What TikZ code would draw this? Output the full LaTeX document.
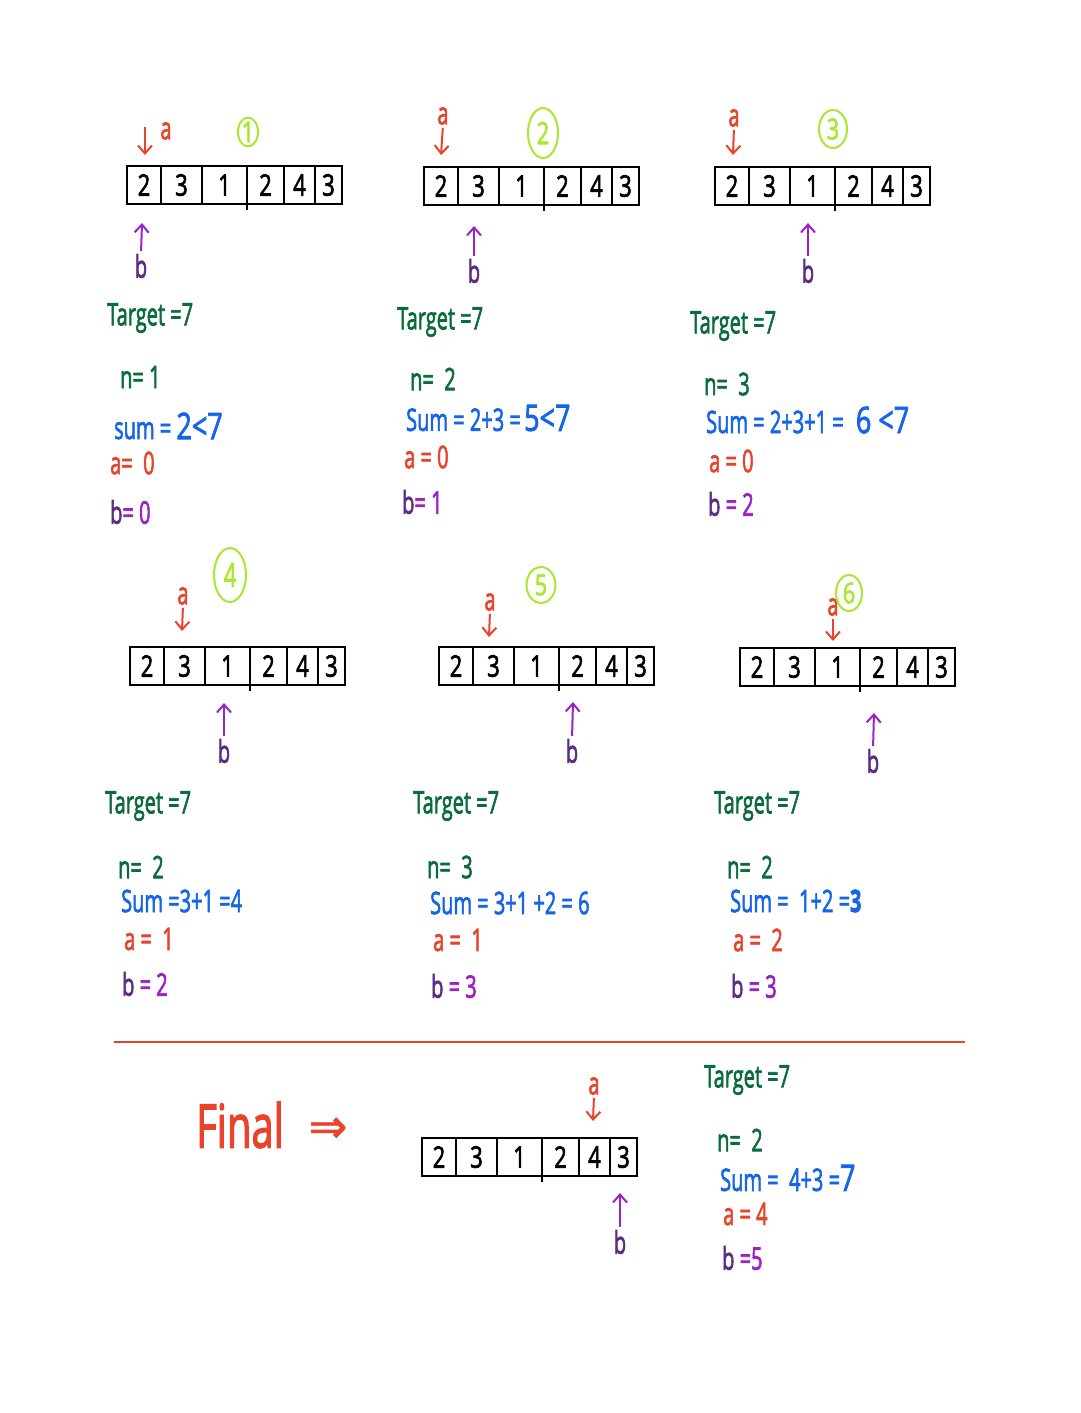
\documentclass[tikz,border=0pt]{standalone}
\usepackage{fontspec}
\setmainfont{Open Sans}[FakeBold=2.5]
\newfontfamily\symfont{DejaVu Sans}[FakeBold=1.5]
\usetikzlibrary{shapes.geometric,arrows.meta}
\definecolor{hwgreen}{HTML}{0B6B3D}
\definecolor{hwblue}{HTML}{1565E8}
\definecolor{hwred}{HTML}{E8432B}
\definecolor{hwpurple}{HTML}{5A2D82}
\definecolor{hwmag}{HTML}{9B22C8}
\definecolor{hwlime}{HTML}{A8E830}
\newcommand\hw[1]{\scalebox{1}[1.55]{#1}}
\newcommand\hwbig[1]{{\fontsize{27}{30}\selectfont\scalebox{1}[1.35]{#1}}}
\newcommand\drawarr[3]{%
  \begin{scope}[shift={(#2,#3)}]
    \node[arrbox] (#1) at (107.5,19) {};
    \foreach \d in {34,75,157,188} \draw[cellline] (\d,0) -- (\d,38);
    \draw[cellline] (120,0) -- (120,44);
    \foreach \v/\c [count=\i] in {2/17,3/54.5,1/97.5,2/138.5,4/172.5,3/201.5}
      \node[cellnum] (#1-\i) at (\c,19) {\scalebox{1}[1.35]{\v}};
  \end{scope}}
\tikzset{
  arrbox/.style={draw=black, line width=1.5pt, minimum width=215pt, minimum height=38pt, inner sep=0pt},
  cellline/.style={black, line width=1.5pt},
  cellnum/.style={inner sep=0pt, font=\fontsize{22}{24}\selectfont},
  txt/.style={anchor=west, inner sep=0pt, font=\fontsize{20}{24}\selectfont},
  ptrlab/.style={inner sep=0pt, font=\fontsize{20}{24}\selectfont},
  aptr/.style={hwred, line width=2pt, shorten <=3pt, -{Straight Barb[length=8pt,width=14pt,line width=2pt]}},
  bptr/.style={hwmag, line width=2pt, shorten <=3pt, -{Straight Barb[length=8pt,width=14pt,line width=2pt]}},
  circnum/.style={ellipse, draw=hwlime, line width=2pt, text=hwlime, inner sep=0pt, font=\fontsize{22}{24}\selectfont},
}
\begin{document}
\begin{tikzpicture}[x=1pt,y=-1pt]
\useasboundingbox[fill=white] (0,0) rectangle (1080,1413);

% ---------- Panel 1 ----------
\drawarr{A1}{127}{166}
\coordinate (a1s) at (145,124);
\coordinate (a1e) at (145,155);
\draw[aptr] (a1s) -- (a1e);
\node[ptrlab, text=hwred] (la1) at (166,131) {\hw{a}};
\node[circnum, minimum width=20pt, minimum height=27pt] (c1) at (248,132) {\scalebox{1}[1.3]{1}};
\node[ptrlab, text=hwpurple] (lb1) at (141,266) {\hw{b}};
\coordinate (b1t) at (142,223);
\draw[bptr] (lb1.north) -- (b1t);
\node[txt, text=hwgreen] (t1) at (107,318) {\hw{Target =7}};
\node[txt, text=hwgreen] (n1) at (120,377) {\hw{n= 1}};
\node[txt, text=hwblue] (s1) at (114,426) {\hw{sum =} \hwbig{2<7}};
\node[txt, text=hwred] (x1) at (110,463) {\hw{a= \ 0}};
\node[txt] (y1) at (110,512) {\hw{\textcolor{hwpurple}{b}\textcolor{hwmag}{= 0}}};

% ---------- Panel 2 ----------
\drawarr{A2}{424}{167}
\node[ptrlab, text=hwred] (la2) at (443,116) {\hw{a}};
\coordinate (a2e) at (441,155);
\draw[aptr] (la2.south) -- (a2e);
\node[circnum, minimum width=30pt, minimum height=50pt] (c2) at (543,133) {\scalebox{1}[1.4]{2}};
\node[ptrlab, text=hwpurple] (lb2) at (474,271) {\hw{b}};
\coordinate (b2t) at (474,226);
\draw[bptr] (lb2.north) -- (b2t);
\node[txt, text=hwgreen] (t2) at (397,322) {\hw{Target =7}};
\node[txt, text=hwgreen] (n2) at (410,379) {\hw{n= \ 2}};
\node[txt, text=hwblue] (s2) at (406,418) {\hw{Sum = 2+3 =}\,\hwbig{5<7}};
\node[txt, text=hwred] (x2) at (404,457) {\hw{a = 0}};
\node[txt] (y2) at (402,502) {\hw{\textcolor{hwpurple}{b}\textcolor{hwmag}{ = 1}}};

% ---------- Panel 3 ----------
\drawarr{A3}{715}{167}
\node[ptrlab, text=hwred] (la3) at (734,118) {\hw{a}};
\coordinate (a3e) at (733,155);
\draw[aptr] (la3.south) -- (a3e);
\node[circnum, minimum width=28pt, minimum height=38pt] (c3) at (833,129) {\scalebox{1}[1.3]{3}};
\node[ptrlab, text=hwpurple] (lb3) at (808,271) {\hw{b}};
\coordinate (b3t) at (808,223);
\draw[bptr] (lb3.north) -- (b3t);
\node[txt, text=hwgreen] (t3) at (690,326) {\hw{Target =7}};
\node[txt, text=hwgreen] (n3) at (704,384) {\hw{n= \ 3}};
\node[txt, text=hwblue] (s3) at (706,420) {\hw{Sum = 2+3+1 =} \hwbig{\ 6 <7}};
\node[txt, text=hwred] (x3) at (709,461) {\hw{a = 0}};
\node[txt] (y3) at (708,504) {\hw{\textcolor{hwpurple}{b}\textcolor{hwmag}{ \ = 2}}};

% ---------- Panel 4 ----------
\drawarr{A4}{130}{647}
\node[ptrlab, text=hwred] (la4) at (183,596) {\hw{a}};
\coordinate (a4e) at (182,631);
\draw[aptr] (la4.south) -- (a4e);
\node[circnum, minimum width=32pt, minimum height=54pt] (c4) at (230,575) {\scalebox{1}[1.5]{4}};
\node[ptrlab, text=hwpurple] (lb4) at (224,751) {\hw{b}};
\coordinate (b4t) at (224,703);
\draw[bptr] (lb4.north) -- (b4t);
\node[txt, text=hwgreen] (t4) at (105,806) {\hw{Target =7}};
\node[txt, text=hwgreen] (n4) at (118,867) {\hw{n= \ 2}};
\node[txt, text=hwblue] (s4) at (121,901) {\hw{Sum =3+1 =4}};
\node[txt, text=hwred] (x4) at (124,939) {\hw{a = \ 1}};
\node[txt] (y4) at (122,984) {\hw{\textcolor{hwpurple}{b}\textcolor{hwmag}{ \ = 2}}};

% ---------- Panel 5 ----------
\drawarr{A5}{439}{647}
\node[ptrlab, text=hwred] (la5) at (490,602) {\hw{a}};
\coordinate (a5e) at (489,637);
\draw[aptr] (la5.south) -- (a5e);
\node[circnum, minimum width=29pt, minimum height=36pt] (c5) at (541,585) {\scalebox{1}[1.3]{5}};
\node[ptrlab, text=hwpurple] (lb5) at (572,751) {\hw{b}};
\coordinate (b5t) at (573,702);
\draw[bptr] (lb5.north) -- (b5t);
\node[txt, text=hwgreen] (t5) at (413,806) {\hw{Target =7}};
\node[txt, text=hwgreen] (n5) at (427,867) {\hw{n= \ 3}};
\node[txt, text=hwblue] (s5) at (430,903) {\hw{Sum = 3+1 +2 = 6}};
\node[txt, text=hwred] (x5) at (433,940) {\hw{a = \ 1}};
\node[txt] (y5) at (431,986) {\hw{\textcolor{hwpurple}{b}\textcolor{hwmag}{ \ = 3}}};

% ---------- Panel 6 ----------
\drawarr{A6}{740}{648}
\node[ptrlab, text=hwred] (la6) at (833,607) {\hw{a}};
\coordinate (a6e) at (833,641);
\draw[aptr] (la6.south) -- (a6e);
\node[circnum, minimum width=26pt, minimum height=36pt] (c6) at (849,593) {\scalebox{1}[1.3]{6}};
\node[ptrlab, text=hwpurple] (lb6) at (873,761) {\hw{b}};
\coordinate (b6t) at (874,713);
\draw[bptr] (lb6.north) -- (b6t);
\node[txt, text=hwgreen] (t6) at (714,806) {\hw{Target =7}};
\node[txt, text=hwgreen] (n6) at (727,867) {\hw{n= \ 2}};
\node[txt, text=hwblue] (s6) at (730,901) {\hw{Sum = \ 1+2 =\textbf{3}}};
\node[txt, text=hwred] (x6) at (733,940) {\hw{a = \ 2}};
\node[txt] (y6) at (731,986) {\hw{\textcolor{hwpurple}{b}\textcolor{hwmag}{ \ = 3}}};

% ---------- Divider ----------
\coordinate (hl) at (114,1042);
\coordinate (hr) at (965,1042);
\draw[hwred, line width=1.3pt] (hl) -- (hr);

% ---------- Final ----------
\node[inner sep=0pt, text=hwred, font=\fontsize{40}{44}\selectfont] (fin) at (240,1125) {\scalebox{1}[1.5]{Final}};
\node[inner sep=0pt, text=hwred, font=\fontsize{46}{50}\selectfont\symfont] (imp) at (328,1130) {⇒};
\drawarr{A7}{422}{1138}
\node[ptrlab, text=hwred] (la7) at (594,1086) {\hw{a}};
\coordinate (a7e) at (593,1121);
\draw[aptr] (la7.south) -- (a7e);
\node[ptrlab, text=hwpurple] (lb7) at (620,1242) {\hw{b}};
\coordinate (b7t) at (620,1193);
\draw[bptr] (lb7.north) -- (b7t);
\node[txt, text=hwgreen] (t7) at (704,1080) {\hw{Target =7}};
\node[txt, text=hwgreen] (n7) at (717,1140) {\hw{n= \ 2}};
\node[txt, text=hwblue] (s7) at (720,1178) {\hw{Sum = \ 4+3 =}\hwbig{7}};
\node[txt, text=hwred] (x7) at (723,1214) {\hw{a = 4}};
\node[txt] (y7) at (722,1258) {\hw{\textcolor{hwpurple}{b}\textcolor{hwmag}{ \ =5}}};
\end{tikzpicture}
\end{document}
